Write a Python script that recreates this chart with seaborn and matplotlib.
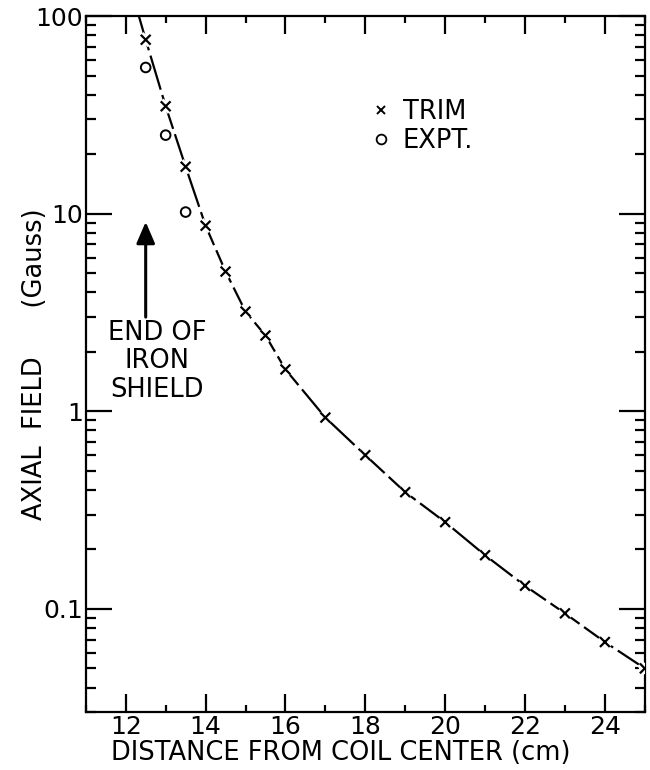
import matplotlib
matplotlib.use("Agg")
import matplotlib.pyplot as plt
import matplotlib.patheffects as pe
from matplotlib.lines import Line2D
from matplotlib.ticker import FixedLocator, LogLocator, MultipleLocator, NullFormatter, FixedFormatter
import seaborn as sns

# ---- data ----
trim_x = [12.5, 13.0, 13.5, 14.0, 14.5, 15.0, 15.5, 16.0, 17, 18, 19, 20, 21, 22, 23, 24, 25]
trim_y = [76, 35, 17.3, 8.7, 5.1, 3.2, 2.42, 1.63, 0.93, 0.60, 0.39, 0.275, 0.187, 0.131, 0.095, 0.068, 0.050]
expt_x = [12.5, 13.0, 13.5]
expt_y = [55, 25, 10.2]
curve_x = [12.33] + trim_x
curve_y = [100] + trim_y
y_ticks = [0.1, 1, 10, 100]
y_tick_labels = ["0.1", "1", "10", "100"]
x_ticks = [12, 14, 16, 18, 20, 22, 24]
x_tick_labels = ["12", "14", "16", "18", "20", "22", "24"]

sns.set_style("ticks")
plt.rcParams["font.family"] = ["DejaVu Sans"]
plt.rcParams["text.color"] = "black"
plt.rcParams["axes.labelcolor"] = "black"

fig = plt.figure(figsize=(6.5, 7.7), dpi=100)
ax = fig.add_axes([0.132, 0.075, 0.86, 0.904])

sns.lineplot(x=curve_x, y=curve_y, ax=ax, color="black", lw=1.6,
             linestyle=(0, (16, 2.5)), zorder=2)
sns.scatterplot(x=trim_x, y=trim_y, ax=ax, marker="x", s=50, color="black",
                linewidth=1.6, zorder=3,
                path_effects=[pe.withStroke(linewidth=5.5, foreground="white")])
sns.scatterplot(x=expt_x, y=expt_y, ax=ax, marker="o", s=48, color="black",
                facecolor="none", edgecolor="black", linewidth=1.4, zorder=3)

ax.set_yscale("log")
ax.set_xlim(11, 25)
ax.set_ylim(0.03, 100)

ax.yaxis.set_major_locator(FixedLocator(y_ticks))
ax.yaxis.set_major_formatter(FixedFormatter(y_tick_labels))
ax.yaxis.set_minor_locator(LogLocator(base=10, subs=range(2, 10)))
ax.yaxis.set_minor_formatter(NullFormatter())
ax.xaxis.set_major_locator(FixedLocator(x_ticks))
ax.xaxis.set_major_formatter(FixedFormatter(x_tick_labels))
ax.xaxis.set_minor_locator(MultipleLocator(1))

ax.tick_params(which="both", direction="in", top=True, right=True,
               width=1.6, color="black", labelsize=18, labelcolor="black")
ax.tick_params(axis="y", which="major", length=19, pad=2)
ax.tick_params(axis="y", which="minor", length=7)
ax.tick_params(axis="x", which="major", length=13, pad=2)
ax.tick_params(axis="x", which="minor", length=5)
for s in ax.spines.values():
    s.set_linewidth(1.6)
    s.set_color("black")

ax.set_xlabel("DISTANCE FROM COIL CENTER (cm)", fontsize=18.5)
ax.xaxis.set_label_coords(0.456, -0.040)
ax.set_ylabel("AXIAL  FIELD      (Gauss)", fontsize=18.5)
ax.yaxis.set_label_coords(-0.067, 0.5)

ax.annotate("", xy=(12.5, 9.1), xytext=(12.5, 3.0),
            arrowprops=dict(arrowstyle="-|>,head_length=0.65,head_width=0.28",
                            color="black", lw=2.2, shrinkA=0, shrinkB=0,
                            mutation_scale=20))
ax.text(12.78, 1.79, "END OF\nIRON\nSHIELD", ha="center", va="center",
        multialignment="center", fontsize=18.5, linespacing=1.12)

handles = [
    Line2D([], [], marker="x", ls="none", color="black", ms=6, mew=1.4, label="TRIM"),
    Line2D([], [], marker="o", ls="none", mfc="none", mec="black", ms=7, mew=1.3, label="EXPT."),
]
ax.legend(handles=handles, loc="upper left", bbox_to_anchor=(0.51, 0.881),
          frameon=False, fontsize=18.5, handlelength=0.8, handletextpad=0.44,
          labelspacing=0.1, borderpad=0, borderaxespad=0)

fig.savefig("out.png", dpi=100)
